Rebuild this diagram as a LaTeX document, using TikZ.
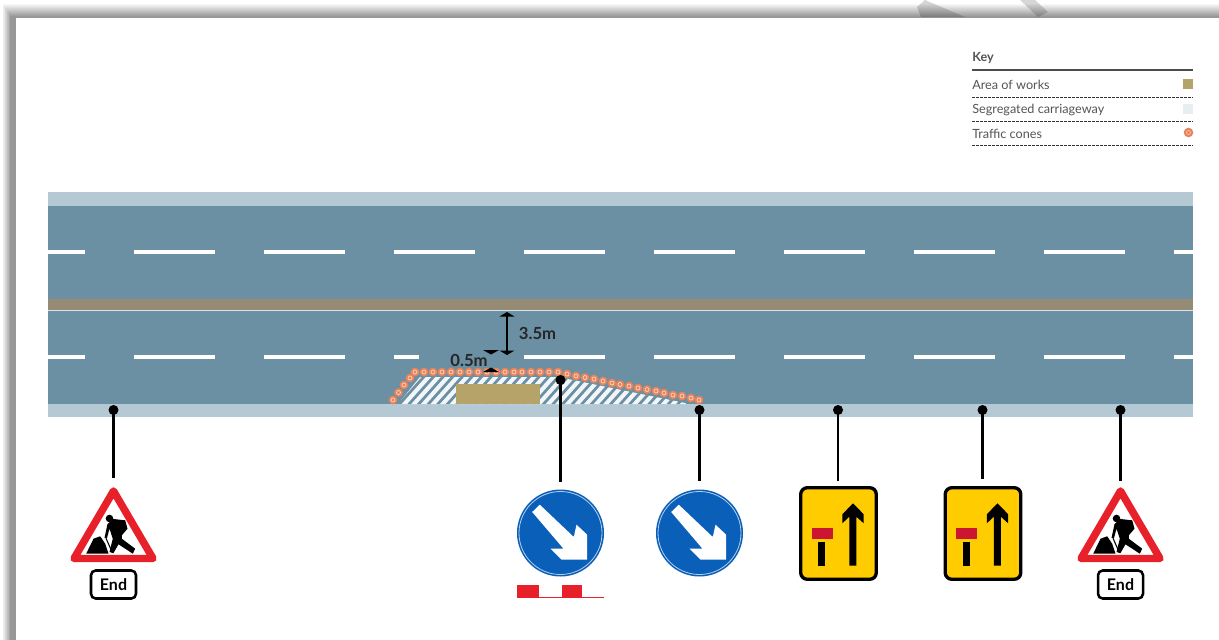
\documentclass[tikz,border=0pt]{standalone}
\usepackage{fontspec}
\setmainfont{Lato}
\definecolor{shoulder}{HTML}{B5C9D4}
\definecolor{carriage}{HTML}{6B8FA3}
\definecolor{median}{HTML}{968C75}
\definecolor{works}{HTML}{B5A36A}
\definecolor{conec}{HTML}{E8835A}
\definecolor{signred}{HTML}{E8202A}
\definecolor{barred}{HTML}{CC1530}
\definecolor{signblue}{HTML}{0A5FB8}
\definecolor{signyellow}{HTML}{FFCC00}
\definecolor{keygray}{HTML}{555555}
\definecolor{segr}{HTML}{E8EEF0}
\tikzset{
  x=0.75pt,y=-0.75pt,
  roaddash/.style={draw=white,line width=2.3pt},
  conept/.pic={\fill[conec] (0,0) circle (4.4);\draw[white!70!conec,line width=0.5pt] (0,0) circle (2);},
  connector/.style={draw=black,line width=2.2pt},
  dotnode/.style={circle,fill=black,inner sep=0pt,minimum size=7.5pt},
  keytext/.style={anchor=west,inner sep=0pt,text=keygray,font=\fontsize{9.5pt}{11pt}\selectfont},
  keydash/.style={draw=black!80,line width=0.8pt,dash pattern=on 2.2pt off 0.8pt},
  dimtext/.style={inner sep=0pt,anchor=center,text=black!85,font=\fontsize{12.5pt}{14pt}\selectfont\bfseries},
  pics/roadworks/.style={code={
    \draw[signred,fill=white,line width=5.6pt,line join=round] (0,4) -- (39.5,71.5) -- (-39.5,71.5) -- cycle;
    \fill[black] (-27.3,66.7) -- (-20,51.7) -- (-13.3,49.3) -- (-8.3,56.7) -- (-5,66.7) -- cycle;
    \fill[black] (-4,31.5) circle (3.8);
    \fill[black] (-6,37) -- (0,32) -- (11.7,33.3) -- (14,41.7) -- (8.3,48.3) -- (8.3,51.7) -- (21.7,61.7) -- (19.3,66.7) -- (5,57.3) -- (0,66) -- (-4,65) -- (-0.7,51.7) -- (-4,41.7) -- (-6.7,51.7) -- (-9,51) -- cycle;
    \draw[black,line width=0.8pt] (-7.3,51.7) -- (-1,66);
  }},
  pics/endplate/.style={code={
    \draw[black,line width=1.9pt,fill=white,rounded corners=3.5pt] (-22.5,-14) rectangle (22.5,14);
    \node[inner sep=0pt,font=\fontsize{12pt}{14pt}\selectfont\bfseries] at (0,0) {End};
  }},
  pics/keepsign/.style={code={
    \fill[signblue] (0,0) circle (43.5);
    \draw[white!70!signblue,line width=0.6pt] (0,0) circle (41.5);
    \fill[white] (-28.3,-21) -- (-20.7,-28.3) -- (13.3,4) -- (16,-8.3) -- (26.7,1.7) -- (26.7,26.7) -- (1,26.7) -- (-10,15.7) -- (3,15.7) -- cycle;
  }},
  pics/lanesign/.style={code={
    \draw[black,line width=2.5pt,fill=signyellow,rounded corners=5pt] (1.7,1.7) rectangle (77.3,93.3);
    \fill[barred] (12.7,42.3) rectangle (33.7,53.3);
    \fill[black] (19.3,55.7) rectangle (26,79.7);
    \fill[black] (50.3,79.7) -- (50.3,30.7) -- (43.3,37.3) -- (43.3,28.3) -- (54,17.3) -- (64.7,28.3) -- (64.7,37.3) -- (57.3,30.7) -- (57.3,79.7) -- cycle;
  }}
}
\begin{document}
\begin{tikzpicture}
\useasboundingbox (0,0) rectangle (1219,639);
\clip (0,0) rectangle (1219,639);
\fill[white] (0,0) rectangle (1219,639);
% page shadow
\foreach \i in {0,...,13} {
  \pgfmathsetmacro{\lev}{100-\i*3.1}
  \fill[color=white!\lev!black] ({2+\i*0.65},{3+\i}) rectangle (1230,650);
}
\fill[white] (16,18) rectangle (1230,650);
% watermark fragments
\fill[black,opacity=0.16] (917,7) -- (925,0) -- (965,17) -- (921,17) -- cycle;
\fill[black,opacity=0.16] (1020,0) -- (1035,0) -- (1048,12) -- (1038,17) -- cycle;
% road
\fill[shoulder] (48,192) rectangle (1193,417);
\fill[carriage] (48,206) rectangle (1193,404);
\fill[median] (48,299) rectangle (1193,310);
\draw[white!75!carriage,line width=0.8pt] (48,310.5) -- (1193,310.5);
% lane dashes
\foreach \a/\b in {48/85,134/215,264/345,394/475,524/605,654/735,784/865,914/995,1044/1125,1174/1193}
  \draw[roaddash] (\a,252) -- (\b,252);
\foreach \a/\b in {48/85,134/215,264/345,394/419,524/605,654/735,784/865,914/995,1044/1125,1174/1193}
  \draw[roaddash] (\a,357) -- (\b,357);
% segregated hatch
\begin{scope}
\clip (398,404) -- (420,377) -- (558,377) -- (690,404) -- cycle;
\foreach \i in {0,...,32} {
  \fill[white!92!carriage] ({392+\i*9.6},404) -- ({397.5+\i*9.6},404) -- ({422.5+\i*9.6},376) -- ({417+\i*9.6},376) -- cycle;
}
\end{scope}
\fill[works] (456,384) rectangle (540,404);
% cones
\foreach \p in {(393,400),(398.5,392.5),(404,385),(410,378),
  (415,372),(424,372),(433,372),(442,372),(451,372),(460,372),(469,372),(478,372),(487,372),(496,372),(505,372),(514,372),(522,372),(531,372),(540,372),(549,372),(558,372),
  (567,374),(576,376),(585,377.5),(594,379),(603,381),(612,383),(620,384.5),(629,386),(638,388),(647,389.5),(656,391),(664,393),(673,395),(682,396),(691,398),(699,400)}
  \pic at \p {conept};
% dimension 3.5m
\fill[black] (507,312) -- (514.5,316.5) -- (499.5,316.5) -- cycle;
\fill[black] (507,355) -- (514.5,350.5) -- (499.5,350.5) -- cycle;
\draw[black,line width=1.6pt] (507,315) -- (507,352);
\node[dimtext] (dimA) at (537.5,333.5) {3.5m};
\fill[black] (491,354.5) -- (483,350) -- (499,350) -- cycle;
\fill[black] (491,367.5) -- (483,372) -- (499,372) -- cycle;
\node[dimtext] (dimB) at (469,360) {0.5m};
% key
\node[keytext,font=\fontsize{9.5pt}{11pt}\selectfont\bfseries] (keyhead) at (972,58) {Key};
\draw[draw=black!70,line width=1.1pt] (972,70) -- (1193,70);
\node[keytext] (key1) at (972,85) {Area of works};
\node[keytext] (key2) at (972,109.5) {Segregated carriageway};
\node[keytext] (key3) at (972,133.5) {Traffic cones};
\draw[keydash] (972,97.5) -- (1193,97.5);
\draw[keydash] (972,121.5) -- (1193,121.5);
\draw[keydash] (972,145.5) -- (1193,145.5);
\fill[works] (1183,79) rectangle (1193,89);
\fill[segr] (1183,104) rectangle (1193,114);
\fill[conec] (1188.5,132.5) circle (4.8);
\draw[white!60!conec,line width=0.4pt] (1188.5,132.5) circle (2);
% signs
\pic at (113.5,487) {roadworks};
\pic at (113.5,584.5) {endplate};
\pic at (1120.5,487) {roadworks};
\pic at (1120.5,584.5) {endplate};
\pic at (560.5,533) {keepsign};
\pic at (699.5,533) {keepsign};
\fill[signred] (517,585) rectangle (539,598);
\fill[signred] (562,585) rectangle (582,598);
\fill[signred] (517,596.7) rectangle (604,598.4);
\pic at (799,486) {lanesign};
\pic at (943.5,486) {lanesign};
% connectors
\node[dotnode] (d1) at (113.5,410) {};
\node[dotnode] (d2) at (560.5,380) {};
\node[dotnode] (d3) at (699.5,410) {};
\node[dotnode] (d4) at (838,410) {};
\node[dotnode] (d5) at (982.5,410) {};
\node[dotnode] (d6) at (1120.5,410) {};
\coordinate (s1) at (113.5,478);
\coordinate (s2) at (560.5,482);
\coordinate (s3) at (699.5,481);
\coordinate (s4) at (838,481);
\coordinate (s5) at (982.5,479);
\coordinate (s6) at (1120.5,481);
\foreach \i in {1,...,6} \draw[connector] (d\i.center) -- (s\i);
\end{tikzpicture}
\end{document}
